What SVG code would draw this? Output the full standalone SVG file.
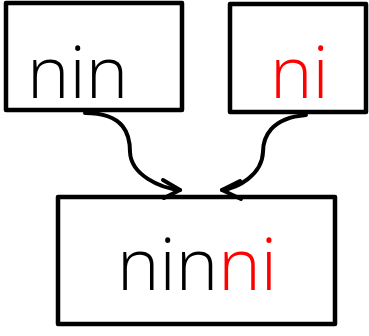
<svg xmlns="http://www.w3.org/2000/svg" width="369" height="336" viewBox="0 0 369 336">
<style>
.box{fill:#fff;stroke:#000;stroke-width:4.5;stroke-linejoin:round}
.lbl{font-family:"Open Sans","Liberation Sans",sans-serif;font-weight:300;font-size:72px}
.edge{fill:none;stroke:#000;stroke-width:4;stroke-linecap:round;stroke-linejoin:round}
</style>
<rect width="369" height="336" fill="#fff"/>
<g id="node-nin">
<rect class="box" x="6" y="3" width="176" height="107"/>
<text class="lbl" x="27" y="98" fill="#000">nin</text>
</g>
<g id="node-ni">
<rect class="box" x="230" y="4" width="136" height="108"/>
<text class="lbl" x="270" y="98" fill="#f00">ni</text>
</g>
<g id="node-ninni">
<rect class="box" x="58" y="197" width="277" height="127"/>
<text class="lbl" x="117" y="290"><tspan fill="#000">nin</tspan><tspan fill="#f00">ni</tspan></text>
</g>
<g id="connectors">
<path class="edge" d="M85 113 C125 113 130 135 130 152 C131 175 160 188 180 190"/>
<polyline class="edge" points="163,180 180,190 164,198"/>
<path class="edge" d="M306 115 C270 118 263 138 263 152 C262 175 238 188 222 190"/>
<polyline class="edge" points="240,181 222,190 241,199"/>
</g>
</svg>
